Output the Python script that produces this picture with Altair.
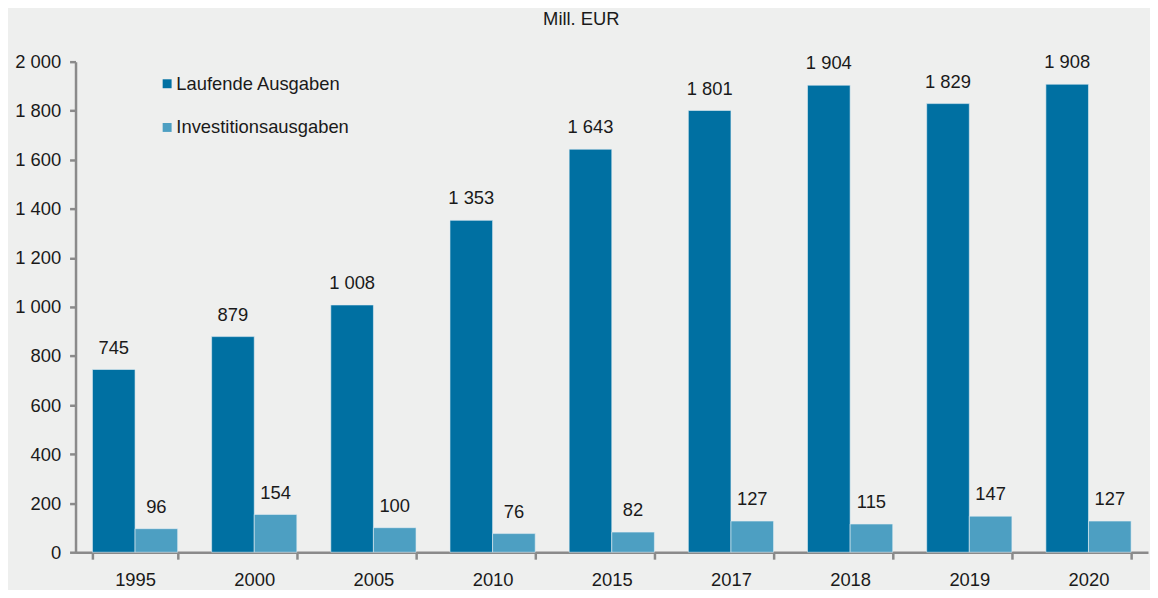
import altair as alt
import pandas as pd

years = ["1995", "2000", "2005", "2010", "2015", "2017", "2018", "2019", "2020"]
laufende = [745, 879, 1008, 1353, 1643, 1801, 1904, 1829, 1908]
invest = [96, 154, 100, 76, 82, 127, 115, 147, 127]
series = ["Laufende Ausgaben", "Investitionsausgaben"]
colors = ["#0070a2", "#4d9fc2"]

rows = []
for y, a, b in zip(years, laufende, invest):
    rows.append({"Jahr": y, "Serie": series[0], "Wert": a})
    rows.append({"Jahr": y, "Serie": series[1], "Wert": b})
df = pd.DataFrame(rows)

FONT = "Liberation Sans"
FS = 18.5
TXT = "#1a1a1a"
AX = "#8a8a8a"

x = alt.X("Jahr:N", sort=years, title=None,
          scale=alt.Scale(paddingInner=0.285, paddingOuter=0.142),
          axis=alt.Axis(labelAngle=0, tickBand="extent", labelFontSize=FS,
                        labelPadding=12, tickSize=7, tickWidth=2.5,
                        tickColor=AX, domainColor=AX,
                        domainWidth=2.5, labelColor=TXT, labelFont=FONT))
xo = alt.XOffset("Serie:N", sort=series, scale=alt.Scale(domain=series, paddingInner=0, paddingOuter=0))
yenc = alt.Y("Wert:Q", title=None,
             scale=alt.Scale(domain=[0, 2000], nice=False),
             axis=alt.Axis(values=list(range(0, 2001, 200)), grid=False,
                           labelExpr="replace(format(datum.value, ','), ',', ' ')",
                           labelFontSize=FS, labelPadding=9, tickSize=6,
                           tickWidth=2.5, tickColor=AX,
                           domainColor=AX, domainWidth=2.5,
                           labelColor=TXT, labelFont=FONT))

base = alt.Chart(df)

bars = base.mark_bar(stroke="#e4eef3", strokeWidth=1, strokeOpacity=0.6).encode(
    x=x, xOffset=xo, y=yenc,
    color=alt.Color("Serie:N", sort=series,
                    scale=alt.Scale(domain=series, range=colors),
                    legend=alt.Legend(title=None, orient="none", legendX=83, legendY=13,
                                      symbolType="square", symbolSize=81,
                                      symbolStrokeWidth=0, labelFontSize=FS,
                                      labelFont=FONT, labelColor=TXT, labelLimit=500,
                                      rowPadding=25, labelOffset=0)),
)

labels = base.transform_calculate(
    lab="replace(format(datum.Wert, ','), ',', ' ')"
).mark_text(dy=-22, fontSize=FS, font=FONT, color=TXT, baseline="middle").encode(
    x=x, xOffset=xo, y=yenc, text="lab:N"
)

chart = alt.layer(bars, labels).properties(
    width=1080, height=494,
    title=alt.TitleParams("Mill. EUR", fontSize=FS, font=FONT, fontWeight="normal",
                          color=TXT, anchor="middle", frame="bounds", offset=24),
    autosize=alt.AutoSizeParams(type="none"),
    padding={"left": 68, "top": 52, "right": 2, "bottom": 36},
    background="#eeefee",
).configure_view(stroke=None)

chart.save("out.html", embed_options={"renderer": "svg", "actions": False})
